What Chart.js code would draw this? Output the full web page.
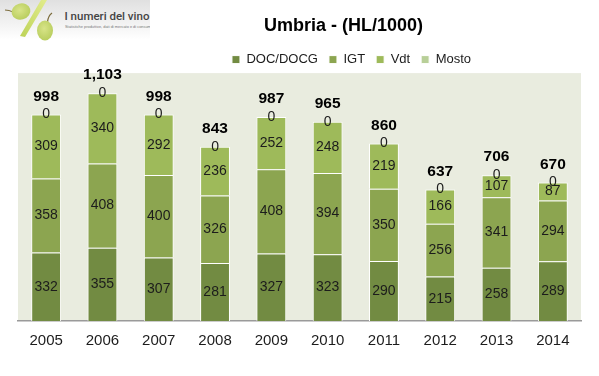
<!DOCTYPE html>
<html>
<head>
<meta charset="utf-8">
<title>Umbria - (HL/1000)</title>
<script src="https://cdn.jsdelivr.net/npm/chart.js@4"></script>
<style>
    html, body { margin: 0; padding: 0; background: #fff; overflow: hidden; }
    #wrap { position: relative; width: 599px; height: 376px; }
    #logo { position: absolute; left: 0; top: 0; }
    #chart { position: absolute; left: 0; top: 0; }
</style>
</head>
<body>
<div id="wrap">
    <canvas id="chart" width="599" height="376"></canvas>
    <!-- Logo in the top corner -->
    <svg id="logo" width="150" height="44" viewBox="0 0 150 44">
        <defs>
            <linearGradient id="band" x1="0" y1="0" x2="0" y2="1">
                <stop offset="0" stop-color="#e0e0e0"/>
                <stop offset="0.9" stop-color="#ffffff"/>
            </linearGradient>
            <radialGradient id="grape" cx="0.45" cy="0.4" r="0.7">
                <stop offset="0" stop-color="#d8e488"/>
                <stop offset="1" stop-color="#b4ca58"/>
            </radialGradient>
            <linearGradient id="slash" x1="1" y1="0" x2="0" y2="1">
                <stop offset="0" stop-color="#e2ec8c"/>
                <stop offset="1" stop-color="#bdd358"/>
            </linearGradient>
        </defs>
        <rect width="150" height="44" fill="url(#band)"/>
        <polygon points="41,0 47,0 25,37 20,36" fill="url(#slash)"/>
        <path d="M5,10 Q9,10 13,12" stroke="#7a6a3a" stroke-width="1" fill="none"/>
        <ellipse cx="21" cy="11.5" rx="9.5" ry="8" fill="url(#grape)" transform="rotate(-15 21 11.5)"/>
        <path d="M47.5,22 Q48,16 52,13" stroke="#7a6a3a" stroke-width="1.2" fill="none"/>
        <ellipse cx="45" cy="30.5" rx="8" ry="10" fill="url(#grape)"/>
        <text x="64.5" y="19.5" font-family="Roboto" font-weight="500" font-size="11.5" fill="#444">I numeri del vino</text>
        <text x="65" y="27.5" font-family="Liberation Sans" font-size="3.9" fill="#777">Statistiche produttive, dati di mercato e di consumo,</text>
    </svg>
</div>
<script>
const years = ["2005", "2006", "2007", "2008", "2009", "2010", "2011", "2012", "2013", "2014"];
const docDocg = [332, 355, 307, 281, 327, 323, 290, 215, 258, 289];
const igt = [358, 408, 400, 326, 408, 394, 350, 256, 341, 294];
const vdt = [309, 340, 292, 236, 252, 248, 219, 166, 107, 87];
const mosto = [0, 0, 0, 0, 0, 0, 0, 0, 0, 0];
const totals = [998, 1103, 998, 843, 987, 965, 860, 637, 706, 670];

const fontName = "'Liberation Sans', sans-serif";

// Grey-green panel behind the bars
const panelPlugin = {
    id: "panel",
    beforeDraw(chart) {
        const a = chart.chartArea;
        chart.ctx.save();
        chart.ctx.fillStyle = "#e9ecdf";
        chart.ctx.fillRect(a.left, a.top, a.right - a.left, a.bottom - a.top);
        chart.ctx.restore();
    }
};

// Title and legend sit right of the page centre in the original
const headerPlugin = {
    id: "header",
    afterLayout(chart) {
        chart.titleBlock.left += 44;
        chart.titleBlock.right += 44;
        chart.legend.left += 52;
        chart.legend.right += 52;
        chart.legend.top += 3;
        chart.legend.bottom += 3;
    }
};

// Value labels inside the segments, totals above the stacks
const labelPlugin = {
    id: "labels",
    afterDatasetsDraw(chart) {
        const ctx = chart.ctx;
        ctx.save();
        ctx.textAlign = "center";
        ctx.textBaseline = "middle";
        ctx.fillStyle = "#1c1c1c";
        ctx.font = "14px " + fontName;
        chart.data.datasets.forEach((ds, i) => {
            chart.getDatasetMeta(i).data.forEach((bar, j) => {
                ctx.fillText(ds.data[j], bar.x, (bar.y + bar.base) / 2);
            });
        });
        ctx.fillStyle = "#000";
        ctx.font = "bold 15.5px " + fontName;
        const topBars = chart.getDatasetMeta(3).data;
        totals.forEach((t, j) => {
            ctx.fillText(t.toLocaleString("en-US"), topBars[j].x, topBars[j].y - 18);
        });
        ctx.restore();
    }
};

new Chart(document.getElementById("chart"), {
    type: "bar",
    data: {
        labels: years,
        datasets: [
            { label: "DOC/DOCG", data: docDocg, backgroundColor: "#728b42" },
            { label: "IGT", data: igt, backgroundColor: "#8ca550" },
            { label: "Vdt", data: vdt, backgroundColor: "#9eba5a" },
            { label: "Mosto", data: mosto, backgroundColor: "#b8cf98" }
        ].map(d => Object.assign(d, {
            borderColor: "#ffffff",
            borderWidth: 1,
            barPercentage: 0.53,
            categoryPercentage: 1
        }))
    },
    options: {
        responsive: false,
        animation: false,
        layout: { padding: { left: 18, right: 18, top: 0, bottom: 0 } },
        plugins: {
            title: {
                display: true,
                text: "Umbria - (HL/1000)",
                color: "#000",
                font: { family: fontName, size: 18, weight: "bold" },
                padding: { top: 15, bottom: 2.5 }
            },
            legend: {
                display: true,
                position: "top",
                labels: {
                    boxWidth: 8,
                    boxHeight: 8,
                    padding: 11,
                    color: "#1c1c1c",
                    font: { family: fontName, size: 13 }
                }
            },
            tooltip: { enabled: false }
        },
        scales: {
            x: {
                stacked: true,
                grid: { display: false },
                border: { color: "#9a9a9a", width: 1.5 },
                afterFit(scale) { scale.height = 55; },
                ticks: {
                    color: "#1c1c1c",
                    padding: 3,
                    maxRotation: 0,
                    font: { family: fontName, size: 15 }
                }
            },
            y: {
                stacked: true,
                display: false,
                min: 0,
                max: 1200
            }
        }
    },
    plugins: [panelPlugin, headerPlugin, labelPlugin]
});
</script>
</body>
</html>
